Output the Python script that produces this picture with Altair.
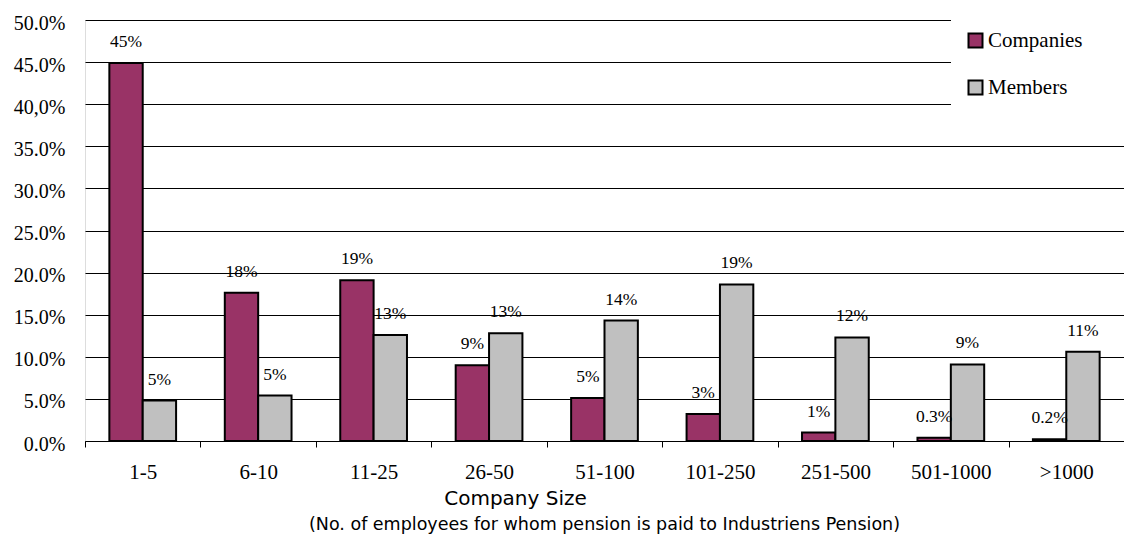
import altair as alt
import pandas as pd

sizes = ["1-5", "6-10", "11-25", "26-50", "51-100", "101-250", "251-500", "501-1000", ">1000"]
series = ["Companies", "Members"]
companies = [44.9, 17.6, 19.1, 9.0, 5.1, 3.2, 1.0, 0.4, 0.2]
members = [4.8, 5.4, 12.6, 12.8, 14.3, 18.6, 12.3, 9.1, 10.6]
companies_labels = ["45%", "18%", "19%", "9%", "5%", "3%", "1%", "0.3%", "0.2%"]
members_labels = ["5%", "5%", "13%", "13%", "14%", "19%", "12%", "9%", "11%"]
y_ticks = [0, 5, 10, 15, 20, 25, 30, 35, 40, 45, 50]

rows = []
for s, v, l in zip(sizes, companies, companies_labels):
    rows.append({"size": s, "series": "Companies", "value": v, "label": l})
for s, v, l in zip(sizes, members, members_labels):
    rows.append({"size": s, "series": "Members", "value": v, "label": l})
df = pd.DataFrame(rows)

serif = "Liberation Serif"
sans = "DejaVu Sans"

x_enc = alt.X(
    "size:N",
    sort=sizes,
    scale=alt.Scale(paddingInner=0, paddingOuter=0),
    axis=alt.Axis(
        title="Company Size",
        titleFont=sans,
        titleFontSize=20,
        titleFontWeight="normal",
        titleColor="black",
        titlePadding=6,
        titleX=430,
        labelAngle=0,
        labelFont=serif,
        labelFontSize=21,
        labelColor="black",
        labelPadding=14,
        tickBand="extent",
        ticks=True,
        tickSize=6,
        tickColor="black",
        domainColor="black",
        domainWidth=1,
        grid=False,
    ),
)
xoff_enc = alt.XOffset("series:N", sort=series, scale=alt.Scale(paddingInner=0, paddingOuter=0.73))
y_enc = alt.Y(
    "value:Q",
    scale=alt.Scale(domain=[0, 50], nice=False, zero=True),
    axis=alt.Axis(
        title=None,
        values=y_ticks,
        labelExpr="datum.value == 40 ? '40,0%' : format(datum.value, '.1f') + '%'",
        labelFont=serif,
        labelFontSize=20,
        labelColor="black",
        labelPadding=20,
        labelOffset=3,
        ticks=False,
        domain=False,
        grid=True,
        gridColor="black",
        gridWidth=1,
        gridOpacity=1,
    ),
)

base = alt.Chart(df).encode(x=x_enc, xOffset=xoff_enc)

bars = base.mark_bar(stroke="black", strokeWidth=2, strokeOpacity=1).encode(
    y=y_enc,
    color=alt.Color(
        "series:N",
        sort=series,
        scale=alt.Scale(domain=series, range=["#993366", "#C0C0C0"]),
        legend=alt.Legend(
            title=None,
            orient="none",
            legendX=866,
            legendY=-4,
            padding=14,
            fillColor="white",
            symbolType="square",
            symbolSize=196,
            symbolStrokeColor="black",
            symbolStrokeWidth=2,
            symbolOpacity=1,
            labelFont=serif,
            labelFontSize=21,
            labelColor="black",
            labelOffset=2,
            labelLimit=600,
            rowPadding=24,
            labelExpr="datum.label + ' " + "\u2800" * 2 + "'",
        ),
    ),
)

labels = base.mark_text(
    font=serif, fontSize=17.5, color="black", baseline="alphabetic", dy=-16
).encode(y=alt.Y("value:Q"), text="label:N")

chart = (
    alt.layer(bars, labels)
    .properties(
        width=1039,
        height=421,
        autosize=alt.AutoSizeParams(type="none"),
        padding={"left": 85, "top": 20, "right": 0, "bottom": 94},
        title=alt.TitleParams(
            text="(No. of employees for whom pension is paid to Industriens Pension)",
            orient="bottom",
            anchor="middle",
            font=sans,
            fontSize=17.5,
            fontWeight="normal",
            color="black",
            offset=8,
        ),
    )
    .configure_view(stroke=None)
    .configure(background="white")
)

chart.save("out.html", embed_options={"renderer": "svg", "actions": False})
